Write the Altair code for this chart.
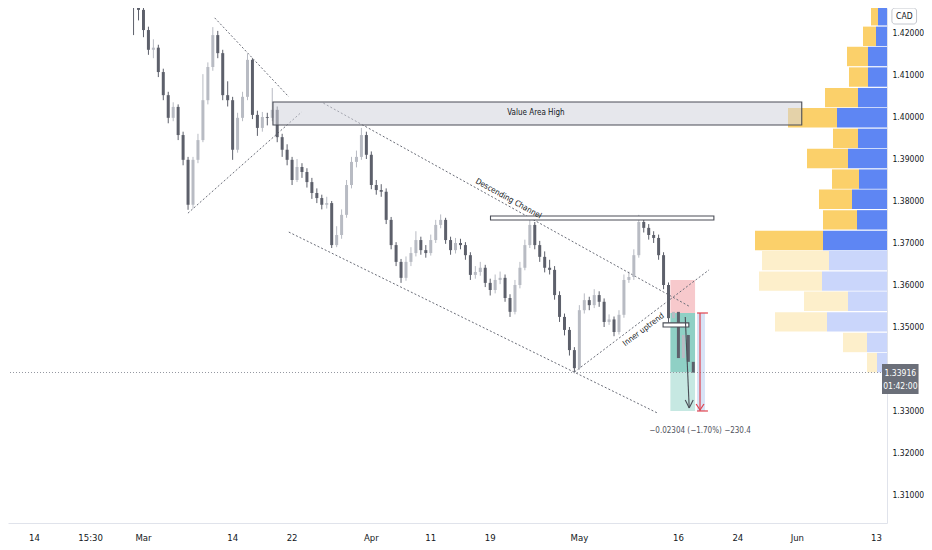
import altair as alt
import pandas as pd

# ---------------- data ----------------
# half-day candles, time unit = trading days after 1 Mar
candle_t0 = -0.95
candle_step = 0.5
first_open = 1.4280
closes = [1.4267, 1.4255, 1.4207, 1.4160, 1.4165, 1.4107, 1.4052, 1.3998, 1.4024, 1.3957,
          1.3898, 1.3791, 1.3898, 1.3945, 1.4040, 1.4119, 1.4195, 1.4152, 1.4052, 1.4040,
          1.3922, 1.3998, 1.4048, 1.4136, 1.4005, 1.3974, 1.4000, 1.3998, 1.4017, 1.3952,
          1.3922, 1.3898, 1.3850, 1.3881, 1.3869, 1.3845, 1.3819, 1.3807, 1.3791, 1.3795,
          1.3695, 1.3719, 1.3767, 1.3838, 1.3893, 1.3905, 1.3957, 1.3910, 1.3838, 1.3826,
          1.3822, 1.3755, 1.3695, 1.3655, 1.3617, 1.3655, 1.3676, 1.3707, 1.3683, 1.3676,
          1.3707, 1.3743, 1.3755, 1.3707, 1.3683, 1.3700, 1.3695, 1.3671, 1.3624, 1.3631,
          1.3641, 1.3605, 1.3588, 1.3612, 1.3617, 1.3569, 1.3536, 1.3600, 1.3641, 1.3695,
          1.3743, 1.3695, 1.3667, 1.3641, 1.3636, 1.3576, 1.3524, 1.3493, 1.3445, 1.3402,
          1.3540, 1.3564, 1.3552, 1.3576, 1.3560, 1.3512, 1.3518, 1.3488, 1.3529, 1.3612,
          1.3619, 1.3671, 1.3750, 1.3736, 1.3719, 1.3712, 1.3671, 1.3600, 1.3521, 1.3536,
          1.3426, 1.3481, 1.3417, 1.33916]
highs = [1.4295, 1.4280, 1.4262, 1.4215, 1.4185, 1.4172, 1.4115, 1.4060, 1.4035, 1.4030,
         1.3965, 1.3905, 1.3905, 1.3960, 1.4102, 1.4130, 1.4214, 1.4205, 1.4160, 1.4085,
         1.4048, 1.4010, 1.4060, 1.4150, 1.4140, 1.4015, 1.4012, 1.4010, 1.4069, 1.4025,
         1.3960, 1.3935, 1.3905, 1.3900, 1.3890, 1.3878, 1.3855, 1.3830, 1.3815, 1.3810,
         1.3800, 1.3740, 1.3780, 1.3850, 1.3905, 1.3920, 1.3974, 1.3965, 1.3918, 1.3850,
         1.3840, 1.3830, 1.3762, 1.3702, 1.3662, 1.3668, 1.3690, 1.3728, 1.3715, 1.3695,
         1.3720, 1.3755, 1.3768, 1.3760, 1.3715, 1.3712, 1.3710, 1.3702, 1.3678, 1.3645,
         1.3655, 1.3648, 1.3615, 1.3625, 1.3632, 1.3625, 1.3578, 1.3612, 1.3655, 1.3708,
         1.3757, 1.3750, 1.3705, 1.3680, 1.3660, 1.3645, 1.3585, 1.3532, 1.3500, 1.3452,
         1.3552, 1.3580, 1.3572, 1.3590, 1.3585, 1.3568, 1.3530, 1.3525, 1.3540, 1.3625,
         1.3632, 1.3685, 1.3767, 1.3758, 1.3745, 1.3728, 1.3720, 1.3678, 1.3606, 1.3566,
         1.3545, 1.3492, 1.3488, 1.3425]
lows = [1.4195, 1.4230, 1.4190, 1.4148, 1.4140, 1.4095, 1.4040, 1.3985, 1.3990, 1.3945,
        1.3885, 1.3779, 1.3782, 1.3890, 1.3940, 1.4030, 1.4110, 1.4140, 1.4040, 1.4025,
        1.3898, 1.3915, 1.3990, 1.4040, 1.3995, 1.3955, 1.3965, 1.3980, 1.3990, 1.3940,
        1.3905, 1.3885, 1.3838, 1.3845, 1.3855, 1.3832, 1.3805, 1.3795, 1.3780, 1.3782,
        1.3688, 1.3690, 1.3710, 1.3760, 1.3830, 1.3880, 1.3898, 1.3900, 1.3828, 1.3815,
        1.3810, 1.3745, 1.3685, 1.3645, 1.3605, 1.3610, 1.3645, 1.3668, 1.3672, 1.3665,
        1.3670, 1.3700, 1.3735, 1.3698, 1.3672, 1.3675, 1.3685, 1.3660, 1.3612, 1.3615,
        1.3622, 1.3595, 1.3575, 1.3580, 1.3602, 1.3560, 1.3524, 1.3530, 1.3592, 1.3635,
        1.3688, 1.3685, 1.3655, 1.3630, 1.3625, 1.3565, 1.3512, 1.3480, 1.3432, 1.3390,
        1.3398, 1.3532, 1.3540, 1.3545, 1.3548, 1.3500, 1.3505, 1.3478, 1.3482, 1.3522,
        1.3605, 1.3612, 1.3665, 1.3725, 1.3708, 1.3700, 1.3660, 1.3590, 1.3510, 1.3512,
        1.3415, 1.3418, 1.3405, 1.3386]

# volume profile rows (price bottom of each row, up / down volume)
vp_low = [1.3392, 1.3440, 1.3489, 1.3538, 1.3586, 1.3635, 1.3683, 1.3732, 1.3781, 1.3829,
          1.3878, 1.3926, 1.3975, 1.4023, 1.4072, 1.4121, 1.4169, 1.4218, 1.4266]
vp_up = [10, 20, 60, 39, 65, 58, 64, 30, 35, 28, 39, 29, 50, 29, 19, 19, 11, 9, 14]
vp_down = [10, 24, 52, 44, 63, 67, 68, 34, 33, 27, 41, 25, 49, 33, 19, 21, 13, 7, 10]
vp_in_va = [0, 0, 0, 0, 0, 0, 1, 1, 1, 1, 1, 1, 1, 1, 1, 1, 1, 1, 1]
vp_row_h = 0.00462

# axes
x_tick_t = [-11, -5.34, 0, 9, 15, 23, 29, 35, 44, 54, 60, 66, 74]
x_tick_lab = ["14", "15:30", "Mar", "14", "22", "Apr", "11", "19", "May", "16", "24", "Jun", "13"]
y_ticks = [1.31, 1.32, 1.33, 1.35, 1.36, 1.37, 1.38, 1.39, 1.40, 1.41, 1.42]

# drawings (trading-day, price)
trend_t1 = [7.24, 4.54, 18.21, 14.72, 43.56]
trend_p1 = [1.4236, 1.3771, 1.4033, 1.3726, 1.3393]
trend_t2 = [14.72, 16.02, 55.24, 51.95, 57.14]
trend_p2 = [1.4048, 1.4012, 1.3548, 1.3295, 1.3636]

box_t1 = [13.12, 35.08, 52.50]
box_t2 = [66.50, 57.63, 55.10]
box_p1 = [1.39810, 1.37548, 1.35000]
box_p2 = [1.40357, 1.37643, 1.35098]

pos_t = [53.24, 55.73]
stop_p, entry_p, target_p = 1.36119, 1.35333, 1.33000
last_p = closes[-1]

# ---------------- chart ----------------
W, H = 879, 515
XD = [-13.12, 74.60]
YD = [1.30333, 1.42595]
FONT = "Liberation Sans Narrow, DejaVu Sans Condensed, Liberation Sans, sans-serif"
UP_C, DN_C = "#b8bbc3", "#5d606b"

expr = "''"
for t, l in reversed(list(zip(x_tick_t, x_tick_lab))):
    expr = f"datum.value == {t} ? '{l}' : ({expr})"

xaxis = alt.Axis(values=x_tick_t, labelExpr=expr, ticks=False, grid=False,
                 domainColor="#e0e3eb", labelColor="#131722", labelFontSize=9.5,
                 labelFont=FONT, labelPadding=9, labelOverlap=False, labelFlush=False)
yaxis = alt.Axis(orient="right", values=y_ticks, format=".5f", ticks=False, grid=False,
                 domainColor="#e0e3eb", labelColor="#131722", labelFontSize=8.5,
                 labelFont=FONT, labelPadding=5, labelOverlap=False, labelFlush=False)


def X(f):
    return alt.X(f, type="quantitative", scale=alt.Scale(domain=XD, nice=False, zero=False),
                 axis=xaxis, title=None)


def Y(f):
    return alt.Y(f, type="quantitative", scale=alt.Scale(domain=YD, nice=False, zero=False),
                 axis=yaxis, title=None)


opens = [first_open] + closes[:-1]
cdf = pd.DataFrame({
    "t": [candle_t0 + candle_step * i for i in range(len(closes))],
    "open": opens, "close": closes, "high": highs, "low": lows,
})
cdf["col"] = [UP_C if c >= o else DN_C for o, c in zip(opens, closes)]

wicks = alt.Chart(cdf).mark_rule(strokeWidth=1, clip=True).encode(
    x=X("t"), y=Y("low"), y2="high", color=alt.Color("col:N", scale=None))
bodies = alt.Chart(cdf).mark_bar(width=3, clip=True).encode(
    x=X("t"), y=Y("open"), y2="close", color=alt.Color("col:N", scale=None))

# volume profile
vrows = []
for lo, u, d, va in zip(vp_low, vp_up, vp_down, vp_in_va):
    vrows.append({"lo": lo, "hi": lo + vp_row_h, "v0": 0, "v1": u,
                  "col": "#5e86f3" if va else "#cad6fb"})
    vrows.append({"lo": lo, "hi": lo + vp_row_h, "v0": u, "v1": u + d,
                  "col": "#fbd06a" if va else "#fdefcb"})
vdf = pd.DataFrame(vrows)
vol = alt.Chart(vdf).mark_rect(clip=True).encode(
    x=alt.X("v0:Q", scale=alt.Scale(domain=[0, W], reverse=True, nice=False, zero=False),
            axis=None, title=None),
    x2="v1",
    y=Y("lo"), y2="hi",
    color=alt.Color("col:N", scale=None))

# position tool
posdf = pd.DataFrame({
    "t1": [pos_t[0]] * 3, "t2": [pos_t[1]] * 3,
    "p1": [entry_p, last_p, target_p], "p2": [stop_p, entry_p, last_p],
    "col": ["#f7c9cc", "#8fd0c5", "#c6e8e2"]})
pos = alt.Chart(posdf).mark_rect(clip=True).encode(
    x=X("t1"), x2="t2", y=Y("p1"), y2="p2", color=alt.Color("col:N", scale=None))

bandf = pd.DataFrame({"t1": [55.93], "t2": [56.73], "p1": [target_p], "p2": [entry_p]})
band = alt.Chart(bandf).mark_rect(color="#d7e3f6").encode(
    x=X("t1"), x2="t2", y=Y("p1"), y2="p2")

# dotted trend lines
tdf = pd.DataFrame({"t1": trend_t1, "p1": trend_p1, "t2": trend_t2, "p2": trend_p2})
trends = alt.Chart(tdf).mark_rule(color="#6a6d78", strokeWidth=1, strokeDash=[2, 2],
                                  clip=True).encode(
    x=X("t1"), y=Y("p1"), x2="t2", y2="p2")

# last price dotted line
ldf = pd.DataFrame({"p": [last_p]})
lastline = alt.Chart(ldf).mark_rule(color="#9598a1", strokeWidth=1, strokeDash=[1, 2]).encode(
    y=Y("p"))

# boxes
bdf = pd.DataFrame({"t1": box_t1, "t2": box_t2, "p1": box_p1, "p2": box_p2,
                    "fill": ["#d1d4dc", "#ffffff", "#ffffff"],
                    "op": [0.55, 1.0, 1.0]})
boxes = alt.Chart(bdf).mark_rect(stroke="#4a4d56", strokeWidth=1.1, clip=True).encode(
    x=X("t1"), x2="t2", y=Y("p1"), y2="p2",
    fill=alt.Fill("fill:N", scale=None), fillOpacity=alt.FillOpacity("op:Q", scale=None))

# red range marker and arrows
red_df = pd.DataFrame({
    "t1": [56.23, 55.93, 55.93, 55.84, 56.23],
    "p1": [entry_p, entry_p, target_p, 1.33167, 1.33024],
    "t2": [56.23, 57.03, 57.03, 56.23, 56.63],
    "p2": [target_p, entry_p, target_p, 1.33024, 1.33167]})
red = alt.Chart(red_df).mark_rule(color="#e0434f", strokeWidth=1.2).encode(
    x=X("t1"), y=Y("p1"), x2="t2", y2="p2")

arr_df = pd.DataFrame({
    "t1": [54.74, 54.74, 55.14],
    "p1": [1.35238, 1.33262, 1.33071],
    "t2": [55.14, 55.14, 55.54],
    "p2": [1.33071, 1.33071, 1.33262]})
arrow = alt.Chart(arr_df).mark_rule(color="#4a4d56", strokeWidth=1.1).encode(
    x=X("t1"), y=Y("p1"), x2="t2", y2="p2")

# texts
def label(txt, t, p, angle=0, size=8, color="#131722", align="center"):
    d = pd.DataFrame({"t": [t], "p": [p], "txt": [txt]})
    return alt.Chart(d).mark_text(angle=angle, fontSize=size, color=color, font=FONT,
                                  align=align, baseline="middle").encode(
        x=X("t"), y=Y("p"), text="txt:N")

t_va = label("Value Area High", 39.67, 1.40084)
t_dc = label("Descending Channel", 36.88, 1.38048, angle=29)
t_iu = label("Inner uptrend", 50.55, 1.34929, angle=323)
t_pl = label("\u22120.02304 (\u22121.70%) \u2212230.4", 56.23, 1.32524, color="#50535e")

# price label & currency tag in the price scale area
pbdf = pd.DataFrame({"t1": [74.60], "t2": [78.29], "p1": [1.33405], "p2": [1.34119]})
pbox = alt.Chart(pbdf).mark_rect(color="#6b6f79").encode(
    x=X("t1"), x2="t2", y=Y("p1"), y2="p2")
ptxt1 = label(f"{last_p:.5f}", 76.45, last_p, size=8.5, color="#ffffff")
ptxt2 = label("01:42:00", 76.45, 1.33595, size=8.5, color="#ffffff")

cdf2 = pd.DataFrame({"t1": [75.60], "t2": [78.09], "p1": [1.42214], "p2": [1.42595]})
cadbox = alt.Chart(cdf2).mark_rect(fill="#ffffff", stroke="#c4c7ce", strokeWidth=1,
                                   cornerRadius=3).encode(
    x=X("t1"), x2="t2", y=Y("p1"), y2="p2")
cadtxt = label("CAD", 76.85, 1.42405, size=8.5, color="#131722")

main = alt.layer(wicks, pos, band, trends, lastline, bodies, boxes, red, arrow,
                 t_va, t_dc, t_iu, t_pl, pbox, ptxt1, ptxt2, cadbox, cadtxt)

chart = alt.layer(vol, main).resolve_scale(x="independent").properties(
    width=W, height=H, background="#ffffff",
    autosize=alt.AutoSizeParams(type="none"),
    padding={"left": 0, "top": 0, "right": 37, "bottom": 27},
).configure_view(stroke=None)

chart.save("out.html", embed_options={"renderer": "svg", "actions": False})
